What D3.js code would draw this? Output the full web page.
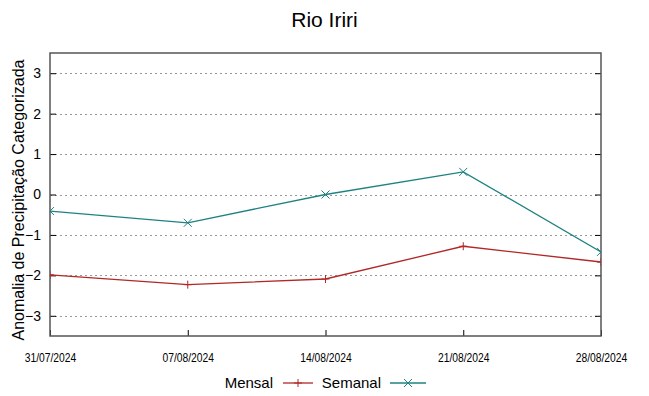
<!DOCTYPE html>
<html lang="pt">
<head>
<meta charset="UTF-8">
<title>Rio Iriri</title>
<script src="https://cdn.jsdelivr.net/npm/d3@7"></script>
<style>
    body { margin: 0; background: #fff; }
    svg text { font-family: "Liberation Sans", Arial, sans-serif; fill: #000; }
    .grid line { stroke: #999; stroke-dasharray: 2 3; stroke-width: 1; }
</style>
</head>
<body>
<div id="chart"></div>
<script>
// dados
var datas = ["31/07/2024", "07/08/2024", "14/08/2024", "21/08/2024", "28/08/2024"];
var mensal = [-1.99, -2.23, -2.09, -1.28, -1.67];
var semanal = [-0.41, -0.70, 0.00, 0.56, -1.42];
var yTicks = [-3, -2, -1, 0, 1, 2, 3];

var W = 649, H = 396;
var margin = { top: 53, right: 48, bottom: 60, left: 50 };

var svg = d3.select("#chart").append("svg")
    .attr("width", W)
    .attr("height", H);

var parse = d3.timeParse("%d/%m/%Y");
var dias = datas.map(parse);

var x = d3.scaleTime()
    .domain(d3.extent(dias))
    .range([margin.left, W - margin.right]);

var y = d3.scaleLinear()
    .domain([-3.5, 3.5])
    .range([H - margin.bottom, margin.top]);

// grade
svg.append("g").attr("class", "grid")
    .selectAll("line").data(yTicks).enter().append("line")
    .attr("x1", margin.left).attr("x2", W - margin.right)
    .attr("y1", function(d) { return Math.round(y(d)) + 0.5; })
    .attr("y2", function(d) { return Math.round(y(d)) + 0.5; });

// eixo y
var yAxis = svg.append("g")
    .attr("transform", "translate(" + margin.left + ",0)")
    .call(d3.axisLeft(y).tickValues(yTicks).tickSize(-6).tickPadding(9).tickFormat(d3.format("d")));
yAxis.select(".domain").remove();
yAxis.selectAll("text").style("font-size", "14px");

// ticks espelhados à direita
svg.append("g")
    .attr("transform", "translate(" + (W - margin.right) + ",0)")
    .call(d3.axisRight(y).tickValues(yTicks).tickSize(-6).tickFormat(""))
    .select(".domain").remove();

// eixo x (fonte estreita simulada)
var xAxis = svg.append("g")
    .attr("transform", "translate(0," + (H - margin.bottom) + ")")
    .call(d3.axisBottom(x).tickValues(dias).tickSize(-6).tickPadding(17)
        .tickFormat(function(d, i) { return datas[i]; }));
xAxis.select(".domain").remove();
xAxis.selectAll("text")
    .style("font-size", "12px")
    .attr("transform", "scale(0.86,1)");

// moldura
svg.append("rect")
    .attr("x", margin.left).attr("y", margin.top)
    .attr("width", W - margin.left - margin.right)
    .attr("height", H - margin.top - margin.bottom)
    .attr("fill", "none").attr("stroke", "#555").attr("stroke-width", 1.5);

svg.append("clipPath").attr("id", "area")
    .append("rect")
    .attr("x", margin.left).attr("y", margin.top)
    .attr("width", W - margin.left - margin.right)
    .attr("height", H - margin.top - margin.bottom);

var series = [
    { nome: "Mensal", valores: mensal, cor: "#b02828", marca: "plus" },
    { nome: "Semanal", valores: semanal, cor: "#1f8282", marca: "cross" }
];

var linha = d3.line()
    .x(function(d, i) { return x(dias[i]); })
    .y(function(d) { return y(d); });

function marcador(g, tipo, cx, cy, cor) {
    var s = 4;
    if (tipo == "plus") {
        g.append("path").attr("d", "M" + (cx - s) + "," + cy + "H" + (cx + s) + "M" + cx + "," + (cy - s) + "V" + (cy + s))
            .attr("stroke", cor).attr("stroke-width", 1);
    } else {
        g.append("path").attr("d", "M" + (cx - s) + "," + (cy - s) + "L" + (cx + s) + "," + (cy + s) +
                "M" + (cx - s) + "," + (cy + s) + "L" + (cx + s) + "," + (cy - s))
            .attr("stroke", cor).attr("stroke-width", 1);
    }
}

var plot = svg.append("g").attr("clip-path", "url(#area)");
series.forEach(function(s) {
    plot.append("path")
        .datum(s.valores)
        .attr("d", linha)
        .attr("fill", "none")
        .attr("stroke", s.cor)
        .attr("stroke-width", 1.3);
    var g = plot.append("g");
    s.valores.forEach(function(v, i) { marcador(g, s.marca, x(dias[i]), y(v), s.cor); });
});

// título
svg.append("text")
    .attr("x", W / 2).attr("y", 27)
    .attr("text-anchor", "middle")
    .style("font-size", "21px")
    .text("Rio Iriri");

// rótulo do eixo y
svg.append("text")
    .attr("transform", "translate(24,200) rotate(-90)")
    .attr("text-anchor", "middle")
    .style("font-size", "16px")
    .text("Anomalia de Precipitação Categorizada");

// legenda
var ly = 383;
var legenda = [
    { texto: "Mensal", tx: 273, x1: 283, x2: 313 },
    { texto: "Semanal", tx: 381, x1: 390, x2: 426 }
];
legenda.forEach(function(l, i) {
    var s = series[i];
    svg.append("text")
        .attr("x", l.tx).attr("y", ly + 5)
        .attr("text-anchor", "end")
        .style("font-size", "15px")
        .text(l.texto);
    svg.append("line")
        .attr("x1", l.x1).attr("x2", l.x2).attr("y1", ly).attr("y2", ly)
        .attr("stroke", s.cor).attr("stroke-width", 1.3);
    marcador(svg, s.marca, (l.x1 + l.x2) / 2, ly, s.cor);
});
</script>
</body>
</html>
